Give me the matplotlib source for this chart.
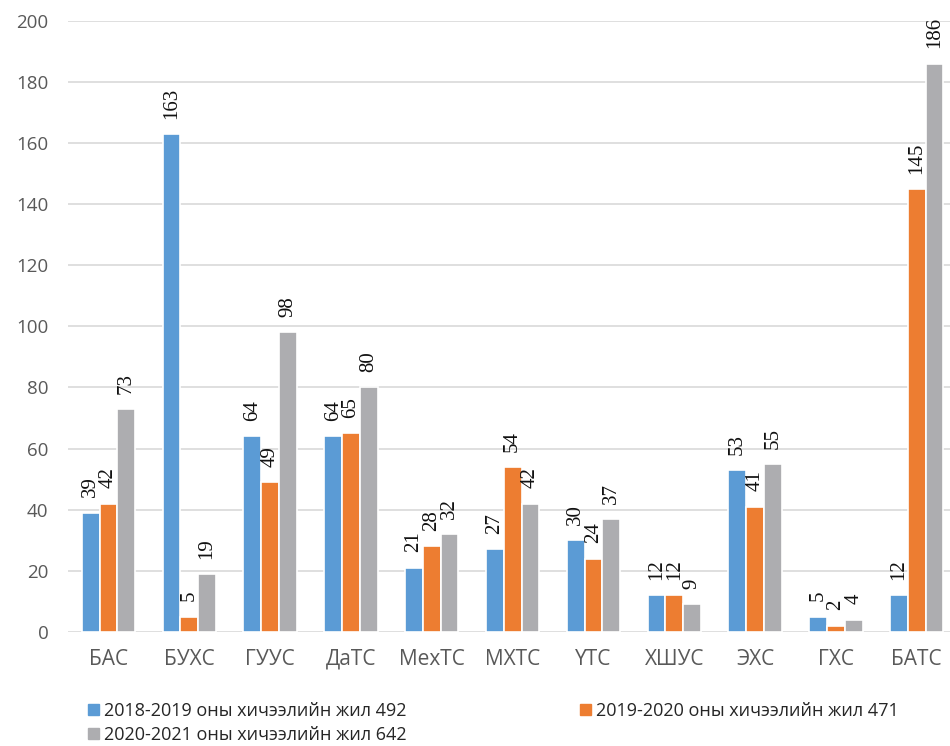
import numpy as np
import matplotlib.pyplot as plt
from matplotlib.patches import Patch

categories = ['БАС', 'БУХС', 'ГУУС', 'ДаТС', 'МехТС', 'МХТС', 'ҮТС', 'ХШУС', 'ЭХС', 'ГХС', 'БАТС']
y2018 = [39, 163, 64, 64, 21, 27, 30, 12, 53, 5, 12]
y2019 = [42, 5, 49, 65, 28, 54, 24, 12, 41, 2, 145]
y2020 = [73, 19, 98, 80, 32, 42, 37, 9, 55, 4, 186]
series_names = ['2018-2019 оны хичээлийн жил 492',
                '2019-2020 оны хичээлийн жил 471',
                '2020-2021 оны хичээлийн жил 642']
colors = ['#5b9bd5', '#ed7d31', '#adadb0']

sans = ['Open Sans', 'DejaVu Sans']
serif = ['Liberation Serif', 'DejaVu Serif']

fig = plt.figure(figsize=(9.5, 7.46), dpi=100)
ax = fig.add_axes([0.0716, 0.153, 0.936, 0.819])

x = np.arange(len(categories))
w = 0.22
for i, (vals, c) in enumerate(zip([y2018, y2019, y2020], colors)):
    bars = ax.bar(x + (i - 1) * w, vals, width=w, color=c,
                  edgecolor='white', linewidth=1.2, zorder=3)
    for b, v in zip(bars, vals):
        ax.annotate(str(v), (b.get_x() + b.get_width() / 2, v),
                    xytext=(0, 11), textcoords='offset points',
                    rotation=90, ha='center', va='bottom',
                    fontsize=15, family=serif, color='#111111')

ax.set_ylim(0, 200)
ax.set_yticks(np.arange(0, 201, 20))
ax.set_xlim(-0.5, len(categories) - 0.5)
ax.set_xticks(x)
ax.set_xticklabels(categories, family=sans, fontsize=15, color='#595959')
for t in ax.get_yticklabels():
    t.set_family(sans)
    t.set_fontsize(13.5)
    t.set_color('#595959')
ax.tick_params(axis='both', length=0)
ax.tick_params(axis='x', pad=12)
ax.tick_params(axis='y', pad=14)
ax.grid(axis='y', color='#d9d9d9', linewidth=1.2, zorder=0)
for s in ax.spines.values():
    s.set_visible(False)

handles = [Patch(color=c) for c in colors]
order = [0, 2, 1]
fig.legend([handles[k] for k in order], [series_names[k] for k in order],
           loc='upper left', bbox_to_anchor=(0.083, 0.071), ncol=2,
           frameon=False, prop={'family': sans, 'size': 13},
           handlelength=0.6, handleheight=0.6, handletextpad=0.3,
           columnspacing=9.6, labelspacing=0.32, borderpad=0,
           labelcolor='#262626')

fig.savefig('out.png', dpi=100)
